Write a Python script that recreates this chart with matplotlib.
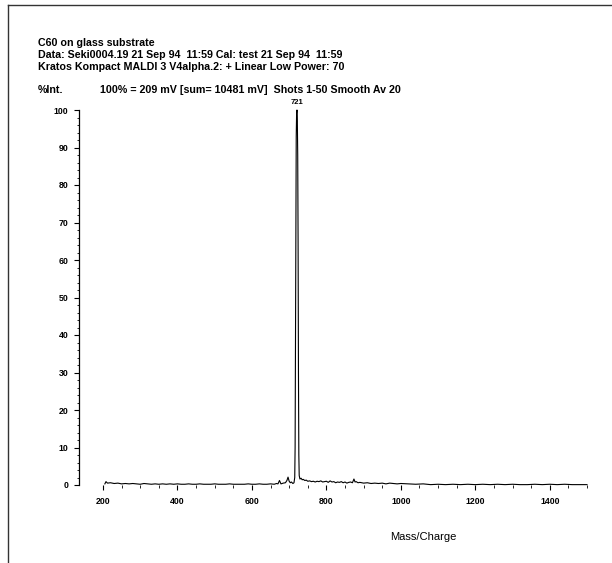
import numpy as np
import matplotlib.pyplot as plt
from matplotlib.ticker import MultipleLocator, FixedLocator
from matplotlib.lines import Line2D

plt.rcParams['font.family'] = ['Liberation Sans', 'DejaVu Sans']

# spectrum (m/z, %Int)
mass = [205, 208, 212, 220, 230, 240, 250, 260, 270, 280, 290, 300, 310, 320, 330,
        340, 350, 360, 370, 380, 390, 400, 410, 420, 430, 440, 450, 460, 470, 480,
        490, 500, 510, 520, 530, 540, 550, 560, 570, 580, 590, 600, 610, 620, 630,
        640, 650, 660, 666, 670, 674, 678, 684, 690, 694, 697, 700, 703, 706, 710,
        713, 715, 716, 717, 718, 719, 720, 721, 722, 723, 724, 725, 726, 727, 729,
        732, 735, 738, 742, 746, 750, 755, 760, 765, 770, 775, 780, 785, 790, 795,
        800, 805, 810, 815, 820, 825, 830, 835, 840, 845, 850, 855, 860, 865, 870,
        874, 877, 880, 885, 890, 900, 910, 920, 930, 940, 950, 960, 970, 980, 990,
        1000, 1020, 1040, 1060, 1080, 1100, 1120, 1140, 1160, 1180, 1200, 1220, 1240,
        1260, 1280, 1300, 1320, 1340, 1360, 1380, 1400, 1420, 1440, 1460, 1480, 1500]
intensity = [0.3, 0.9, 0.5, 0.6, 0.4, 0.5, 0.3, 0.4, 0.3, 0.4, 0.3, 0.2, 0.4, 0.3, 0.2,
             0.3, 0.2, 0.3, 0.2, 0.3, 0.2, 0.3, 0.2, 0.2, 0.3, 0.2, 0.2, 0.3, 0.2, 0.2,
             0.2, 0.3, 0.2, 0.2, 0.2, 0.3, 0.2, 0.2, 0.2, 0.2, 0.3, 0.2, 0.2, 0.3, 0.2,
             0.2, 0.3, 0.2, 0.4, 0.3, 1.2, 0.3, 0.5, 0.6, 1.2, 2.1, 1.0, 0.6, 0.8, 0.4,
             0.6, 2.0, 10, 40, 75, 93, 99, 100, 97, 88, 65, 30, 8, 2.5, 1.6,
             1.8, 1.4, 1.5, 1.2, 1.3, 1.0, 1.1, 0.9, 1.0, 0.8, 1.0, 0.9, 1.1, 0.8, 0.9,
             1.0, 0.7, 1.1, 0.8, 0.9, 0.6, 0.8, 0.7, 0.9, 0.6, 0.8, 0.5, 0.7, 0.8, 0.6,
             1.6, 0.8, 0.9, 0.6, 0.7, 0.5, 0.6, 0.4, 0.5, 0.4, 0.5, 0.3, 0.5, 0.4, 0.3,
             0.4, 0.3, 0.2, 0.3, 0.1, 0.2, 0.1, 0.2, 0.1, 0.2, 0.1, 0.2, 0.1,
             0.2, 0.1, 0.2, 0.1, 0.1, 0.2, 0.1, 0.2, 0.1, 0.2, 0.1, 0.1, 0.1]

peak_mass = 721
x_major = [200, 400, 600, 800, 1000, 1200, 1400]
x_minor = [250, 300, 350, 450, 500, 550, 650, 700, 750, 850, 900, 950,
           1050, 1100, 1150, 1250, 1300, 1350, 1450, 1500]
header = ['C60 on glass substrate',
          'Data: Seki0004.19 21 Sep 94  11:59 Cal: test 21 Sep 94  11:59',
          'Kratos Kompact MALDI 3 V4alpha.2: + Linear Low Power: 70']
info = '100% = 209 mV [sum= 10481 mV]  Shots 1-50 Smooth Av 20'

W, H = 612, 563
fig = plt.figure(figsize=(W / 100, H / 100), dpi=100)

def fx(x):
    return x / W

def fy(y):
    return 1 - y / H

# axes: y axis at x=79px, 1500 at 587px, 0 at 485px, 100 at 110px
xmin = 200 - (103 - 79) / ((587 - 103) / 1300)
ax = fig.add_axes([fx(79), fy(485), fx(587 - 79), (485 - 110) / H])
ax.plot(mass, intensity, color='black', lw=0.8, clip_on=False)
ax.set_xlim(xmin, 1500)
ax.set_ylim(0, 100)

ax.spines['top'].set_visible(False)
ax.spines['right'].set_visible(False)
ax.spines['bottom'].set_visible(False)
ax.spines['left'].set_linewidth(0.9)

ax.set_xticks(x_major)
ax.xaxis.set_minor_locator(FixedLocator(x_minor))
ax.yaxis.set_major_locator(MultipleLocator(10))
ax.yaxis.set_minor_locator(MultipleLocator(2))
ax.tick_params(axis='both', which='major', length=3.5, width=0.8, labelsize=6.3)
ax.tick_params(axis='both', which='minor', length=1.8, width=0.6)
ax.tick_params(axis='x', pad=5)
ax.tick_params(axis='y', pad=4)
for lab in ax.get_xticklabels() + ax.get_yticklabels():
    lab.set_fontweight('bold')

ax.text(peak_mass, 101, str(peak_mass), ha='center', va='bottom', fontsize=5.5, fontweight='bold')

# header lines
for i, line in enumerate(header):
    fig.text(fx(38), fy(43 + i * 12), line, fontsize=7.7, fontweight='bold', va='center')
fig.text(fx(38), fy(90), '%Int.', fontsize=7.7, fontweight='bold', va='center')
fig.text(fx(100), fy(90), info, fontsize=7.7, fontweight='bold', va='center')

fig.text(fx(423), fy(537), 'Mass/Charge', fontsize=8, ha='center', va='center')

# page frame (top and left)
fig.add_artist(Line2D([fx(8), fx(612)], [fy(5), fy(5)], color='#333333', lw=1))
fig.add_artist(Line2D([fx(8), fx(8)], [fy(5), fy(563)], color='#333333', lw=1))

fig.savefig('out.png', dpi=100)
